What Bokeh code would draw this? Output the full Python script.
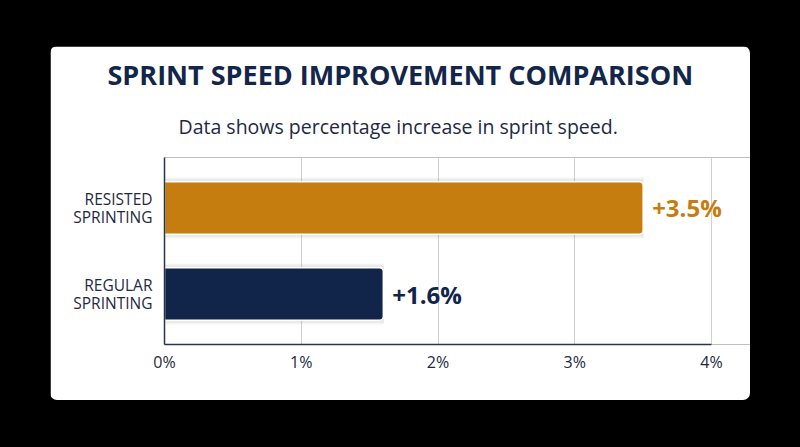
from bokeh.plotting import figure
from bokeh.models import FactorRange, Title, LabelSet, Range1d, FixedTicker, ColumnDataSource
from bokeh.core.properties import value
from bokeh.layouts import column
from bokeh.embed import file_html
from bokeh.resources import INLINE

categories = ["REGULAR\nSPRINTING", "RESISTED\nSPRINTING"]
values = [1.6, 3.5]
value_labels = ["+1.6%", "+3.5%"]
colors = ["#11244A", "#C47D0E"]
x_ticks = [0, 1, 2, 3, 4]
x_tick_labels = {0: "0%", 1: "1%", 2: "2%", 3: "3%", 4: "4%"}
title_text = "SPRINT SPEED IMPROVEMENT COMPARISON"
subtitle_text = "Data shows percentage increase in sprint speed."

FONT = "Open Sans"
NAVY = "#13264A"
X_END = 4.285

src = ColumnDataSource(dict(y=categories, x=values, lab=value_labels, c=colors))

p = figure(
    width=700, height=354,
    y_range=FactorRange(*categories, range_padding=0.087, range_padding_units="absolute"),
    x_range=Range1d(0, X_END),
    output_backend="svg", toolbar_location=None,
    min_border_left=114, min_border_right=0, min_border_top=111, min_border_bottom=56,
)
p.margin = (46, 50, 47, 50)
p.styles = {"border-radius": "7px", "overflow": "hidden"}
p.background_fill_color = "white"
p.border_fill_color = "white"
p.outline_line_color = None
p.outline_line_alpha = 0
p.outline_line_width = 0

# shadows
p.hbar(y="y", right="x", left=0, height=0.7, color="#000000", alpha=0.03, source=src)
p.hbar(y="y", right="x", left=0, height=0.66, color="#000000", alpha=0.04, source=src)
p.hbar(y="y", right="x", left=0, height=0.61, fill_color="c", source=src,
       line_color="white", line_width=1.5, border_radius=(0, 4, 4, 0))

p.xgrid.ticker = FixedTicker(ticks=x_ticks, minor_ticks=[])
p.xgrid.bounds = (0, 4)
p.xgrid.grid_line_color = "#CFCFD4"
p.xgrid.grid_line_width = 1
p.ygrid.grid_line_color = None

p.xaxis.ticker = FixedTicker(ticks=x_ticks, minor_ticks=[])
p.xaxis.major_label_overrides = x_tick_labels
p.xaxis.bounds = (0, 4)
for ax in (p.xaxis[0], p.yaxis[0]):
    ax.axis_line_color = "#2A3550"
    ax.axis_line_width = 1.5
    ax.major_tick_line_color = None
    ax.minor_tick_line_color = None
    ax.major_tick_out = 0
    ax.major_tick_in = 0
    ax.major_label_text_font = FONT
    ax.major_label_text_color = "#1E2942"
    ax.major_label_text_font_size = "16px"
p.yaxis.major_label_text_font_size = "15.5px"
p.yaxis.major_label_text_line_height = 0.78
p.xaxis.major_label_standoff = 6
p.yaxis.major_label_standoff = 12

p.add_layout(LabelSet(x="x", y="y", text="lab", source=src, x_offset=9,
                      text_baseline="middle", text_color="c", text_font=value(FONT),
                      text_font_style="bold", text_font_size="24px"))

sub = Title(text=subtitle_text, align="left", offset=14, standoff=36,
            text_color="#1E2942", text_font=FONT, text_font_size="19.5px",
            text_font_style="normal", text_line_height=0.6)
ttl = Title(text=title_text, align="left", offset=-57, standoff=0,
            text_color=NAVY, text_font=FONT, text_font_size="27px",
            text_font_style="bold")
p.add_layout(sub, "above")
p.add_layout(ttl, "above")

layout = column(p, styles={"background-color": "black"}, width=800, height=447)
open("out.html", "w").write(file_html(layout, INLINE))
